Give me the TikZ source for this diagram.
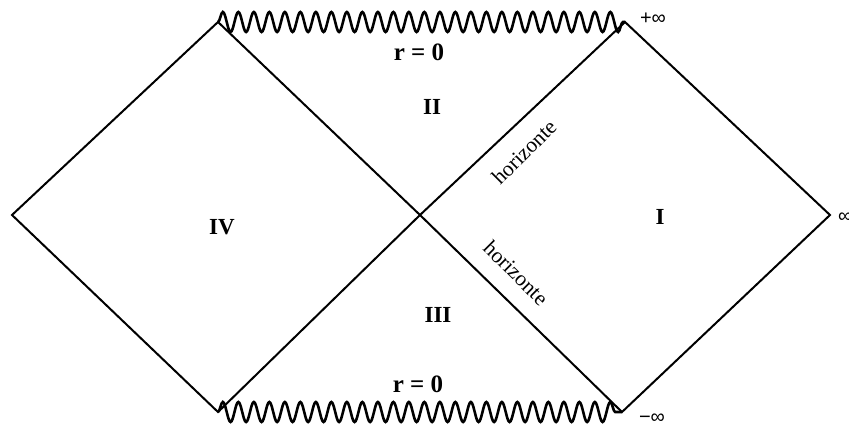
\documentclass[tikz,border=0pt]{standalone}
\usepackage{fontspec}
\setmainfont{Liberation Serif}
\newfontfamily\symfont{Liberation Sans}
\usetikzlibrary{decorations.pathmorphing}
\begin{document}
\begin{tikzpicture}[x=1pt,y=-1pt,
  edge/.style={line width=2pt,line join=miter},
  wave/.style={line width=2.6pt,decorate,decoration={snake,segment length=15.5pt,amplitude=10pt}},
  region/.style={font=\fontsize{23}{23}\selectfont\bfseries},
  rlabel/.style={font=\fontsize{25}{25}\selectfont\bfseries},
  hlabel/.style={font=\fontsize{21.5}{21.5}\selectfont},
  inf/.style={font=\fontsize{20}{20}\selectfont\symfont}]
\useasboundingbox (0,0) rectangle (849,429);
\coordinate (L) at (12,215);
\coordinate (T1) at (218,22);
\coordinate (B1) at (218,412);
\coordinate (C) at (420,215);
\coordinate (T2) at (625,22);
\coordinate (R) at (830,215);
\coordinate (B2) at (622,412);
\draw[edge] (L) -- (T1) -- (C) -- (B1) -- cycle;
\draw[edge] (C) -- (T2) -- (R) -- (B2) -- cycle;
\draw[wave] (T1) -- (T2);
\draw[wave] (B1) -- (B2);
\node[rlabel] (r1) at (419,52) {r = 0};
\node[rlabel] (r2) at (418,384) {r = 0};
\node[region] (II) at (432,107) {II};
\node[region] (III) at (438,315) {III};
\node[region] (IV) at (222,227) {IV};
\node[region] (I) at (660,217) {I};
\node[hlabel,rotate=45] (h1) at (524,152) {horizonte};
\node[hlabel,rotate=-45] (h2) at (516,273) {horizonte};
\node[inf] (pinf) at (653,19) {+∞};
\node[inf] (minf) at (652,419) {−∞};
\node[inf,anchor=west,inner sep=0pt] (rinf) at (838,218) {∞};
\end{tikzpicture}
\end{document}
